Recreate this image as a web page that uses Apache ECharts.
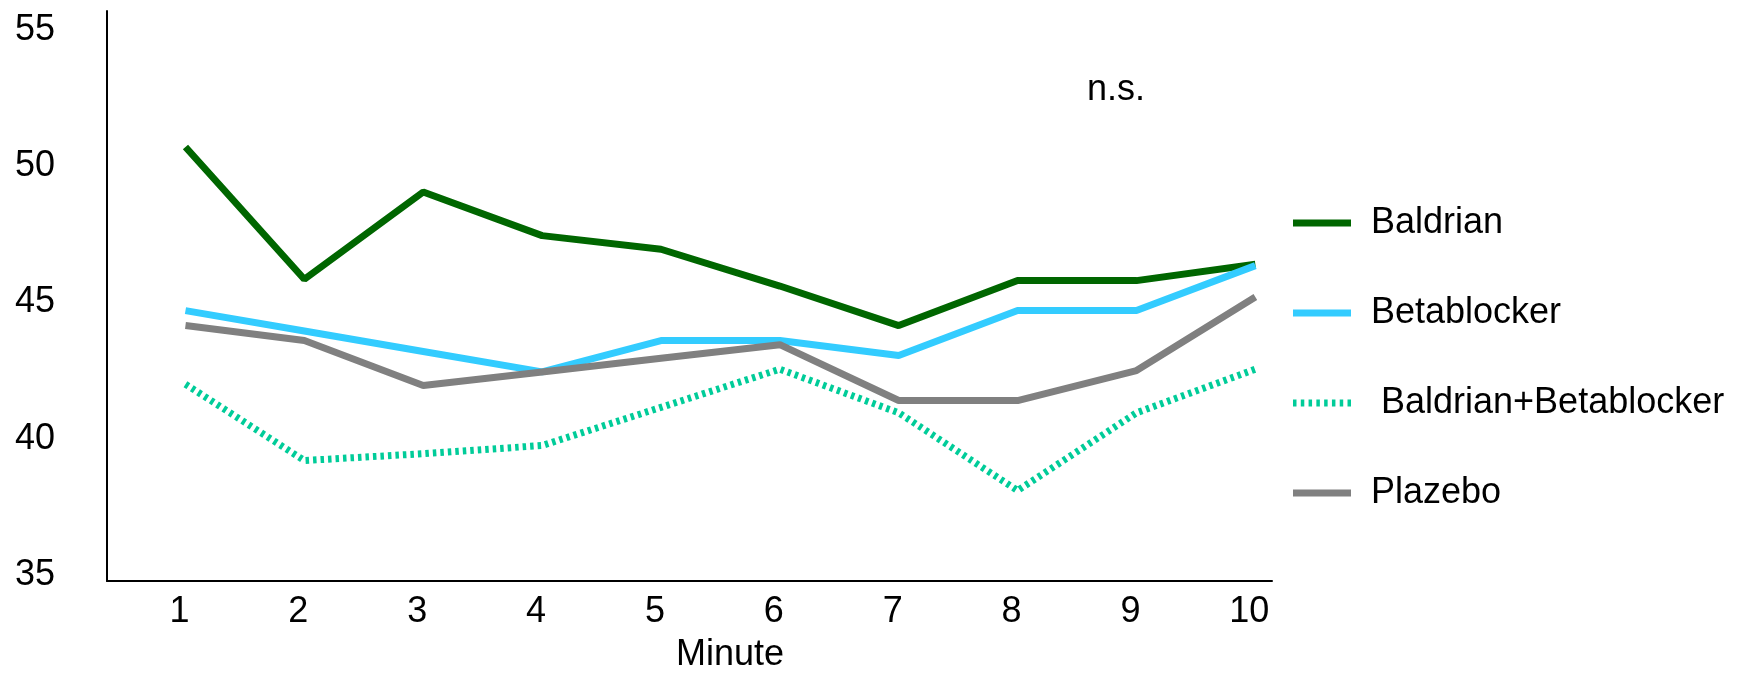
<!DOCTYPE html>
<html>
<head>
<meta charset="utf-8">
<script src="https://cdn.jsdelivr.net/npm/echarts@6/dist/echarts.min.js"></script>
<style>
html,body{margin:0;padding:0;background:#fff;}
#chart{width:1760px;height:678px;}
</style>
</head>
<body>
<div id="chart"></div>
<script>
// ---- data ----
const minutes = [1, 2, 3, 4, 5, 6, 7, 8, 9, 10];
const yTicks = [35, 40, 45, 50, 55];
const seriesNames = ['Baldrian', 'Betablocker', ' Baldrian+Betablocker', 'Plazebo'];
const baldrian = [50.7, 45.85, 49.05, 47.45, 46.95, 45.6, 44.15, 45.8, 45.8, 46.4];
const betablocker = [44.7, 43.95, 43.2, 42.45, 43.6, 43.6, 43.05, 44.7, 44.7, 46.35];
const baldrianBeta = [42.0, 39.2, 39.45, 39.75, 41.15, 42.55, 40.95, 38.1, 40.95, 42.55];
const plazebo = [44.15, 43.6, 41.95, 42.45, 42.95, 43.45, 41.4, 41.4, 42.5, 45.2];
const xAxisName = 'Minute';
const note = 'n.s.';

const FONT = '"Liberation Sans", Arial, sans-serif';
const pairs = arr => minutes.map((m, i) => [m, arr[i]]);

// dashed legend icon path (58 x 7 box)
let dashPath = 'path://';
for (let i = 0; i < 8; i++) {
  const x0 = (i * 7.786).toFixed(2);
  dashPath += 'M' + x0 + ',0h3.5v7h-3.5z';
}

const chart = echarts.init(document.getElementById('chart'), null, {renderer: 'canvas'});
chart.setOption({
  animation: false,
  backgroundColor: '#ffffff',
  textStyle: {fontFamily: FONT, color: '#000'},
  grid: {left: 107, right: 488, top: 11, bottom: 92, containLabel: false},
  xAxis: {
    type: 'value',
    min: 0.34,
    max: 10.14,
    name: xAxisName,
    nameLocation: 'middle',
    nameGap: 56,
    nameTextStyle: {fontSize: 36, fontFamily: FONT, color: '#000', padding: [0, 0, 0, 81]},
    axisLine: {show: true, lineStyle: {color: '#000', width: 2}},
    axisTick: {show: false},
    splitLine: {show: false},
    axisLabel: {
      customValues: minutes,
      fontSize: 36, fontFamily: FONT, color: '#000', margin: 13,
      padding: [0, 12, 0, 0]
    }
  },
  yAxis: {
    type: 'value',
    min: 34.78,
    max: 55.69,
    axisLine: {show: true, lineStyle: {color: '#000', width: 2}},
    axisTick: {show: false},
    splitLine: {show: false},
    axisLabel: {
      customValues: yTicks,
      fontSize: 36, fontFamily: FONT, color: '#000', margin: 52
    }
  },
  legend: {
    orient: 'vertical',
    left: 1293,
    top: 205,
    itemWidth: 58,
    itemHeight: 7,
    itemGap: 54,
    padding: 0,
    textStyle: {fontSize: 36, fontFamily: FONT, color: '#000', padding: [0, 0, 0, 15]},
    data: [
      {name: seriesNames[0], icon: 'rect'},
      {name: seriesNames[1], icon: 'rect'},
      {name: seriesNames[2], icon: dashPath},
      {name: seriesNames[3], icon: 'rect'}
    ]
  },
  graphic: [{
    type: 'text',
    left: 1087,
    top: 72,
    style: {text: note, font: '36px ' + FONT, fill: '#000'}
  }],
  series: [
    {name: seriesNames[0], type: 'line', data: pairs(baldrian), symbol: 'none',
     lineStyle: {color: '#006600', width: 7}, itemStyle: {color: '#006600'}},
    {name: seriesNames[1], type: 'line', data: pairs(betablocker), symbol: 'none',
     lineStyle: {color: '#33CCFF', width: 7}, itemStyle: {color: '#33CCFF'}},
    {name: seriesNames[2], type: 'line', data: pairs(baldrianBeta), symbol: 'none',
     lineStyle: {color: '#00CC99', width: 7, type: [3.5, 4]}, itemStyle: {color: '#00CC99'}},
    {name: seriesNames[3], type: 'line', data: pairs(plazebo), symbol: 'none',
     lineStyle: {color: '#808080', width: 7}, itemStyle: {color: '#808080'}}
  ]
});
</script>
</body>
</html>
